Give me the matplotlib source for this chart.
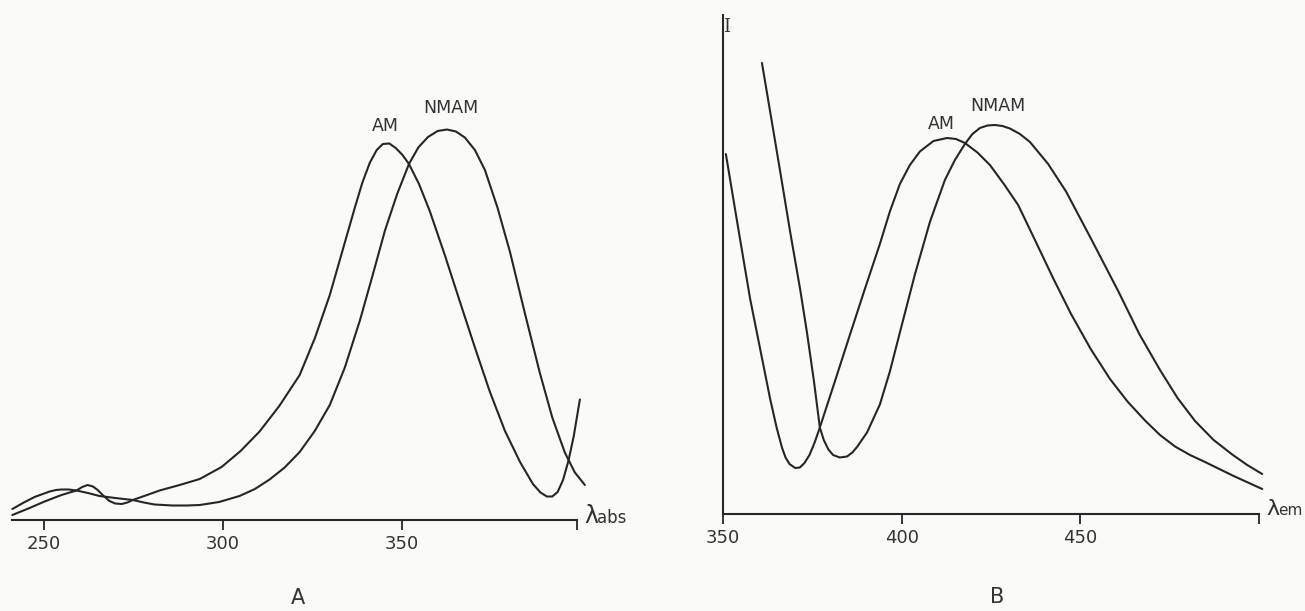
import matplotlib
matplotlib.use("Agg")
import matplotlib.pyplot as plt

W, H, DPI = 1305, 611, 100
INK = "#262626"
BG = "#fafaf8"

# ---- Panel A: absorption (wavelength nm, relative absorbance) ----
a_am_nm = [241.3, 246.1, 250.3, 255.0, 259.2, 260.8, 262.3, 263.8, 265.1, 266.8,
           268.4, 270.0, 271.8, 273.4, 274.9, 278.5, 282.4, 288.0, 293.6, 299.7,
           305.0, 310.3, 315.8, 321.5, 325.8, 329.9, 333.5, 336.9, 339.0, 341.1,
           343.0, 344.7, 346.5, 348.3, 350.2, 352.0, 354.8, 357.8, 362.0, 366.2,
           370.4, 374.6, 378.8, 383.0, 386.6, 388.7, 390.5, 392.0, 393.5, 395.0,
           396.5, 398.0, 399.7]
a_am_val = [1.0, 2.4, 3.7, 5.0, 5.9, 6.6, 7.0, 6.7, 6.0, 4.8,
            3.8, 3.3, 3.2, 3.5, 4.0, 4.9, 5.9, 7.0, 8.2, 10.6,
            13.8, 17.7, 22.8, 29.0, 36.5, 45.0, 54.0, 62.5, 67.5, 71.5,
            74.0, 75.2, 75.3, 74.4, 73.0, 71.2, 67.2, 61.8, 53.0, 43.7,
            34.5, 25.6, 17.8, 11.6, 7.2, 5.5, 4.7, 4.7, 5.6, 8.0,
            11.8, 16.8, 24.1]
a_nmam_nm = [241.3, 244.5, 247.5, 251.7, 253.5, 255.0, 257.0, 259.2, 262.4, 265.6,
             270.0, 274.9, 278.0, 281.0, 286.0, 290.0, 293.6, 299.0, 304.7, 309.0,
             313.1, 317.3, 321.5, 325.7, 329.9, 334.1, 338.3, 341.8, 345.3, 348.7,
             352.0, 354.6, 357.3, 360.0, 362.6, 365.1, 367.6, 370.4, 373.2, 376.7,
             380.2, 384.3, 388.5, 392.0, 395.5, 398.3, 401.1]
a_nmam_val = [2.2, 3.5, 4.6, 5.7, 6.0, 6.1, 6.1, 5.9, 5.4, 4.8,
              4.4, 4.0, 3.5, 3.1, 2.9, 2.9, 3.0, 3.6, 4.8, 6.2,
              8.1, 10.5, 13.6, 17.8, 23.0, 30.5, 39.9, 48.8, 57.9, 65.2,
              71.2, 74.5, 76.6, 77.8, 78.1, 77.7, 76.5, 74.0, 70.0, 62.5,
              53.6, 41.5, 29.5, 20.5, 13.5, 9.5, 7.0]
a_ticks = [250, 300, 350]
a_tick_labels = ["250", "300", "350"]

# ---- Panel B: emission (wavelength nm, relative intensity) ----
b_am_nm = [350.8, 354.2, 357.6, 360.4, 363.2, 365.0, 366.5, 367.5, 368.6, 370.2,
           371.5, 372.8, 374.2, 375.7, 377.1, 381.3, 385.5, 389.7, 393.9, 396.7,
           399.5, 402.3, 405.1, 408.9, 412.7, 415.2, 417.7, 421.2, 424.7, 428.6,
           432.6, 437.5, 442.5, 447.4, 452.9, 458.3, 463.2, 468.1, 472.3, 476.5,
           480.7, 484.9, 492.9, 500.9]
b_am_val = [72.0, 57.4, 43.0, 33.0, 23.0, 17.3, 13.3, 11.3, 10.0, 9.2,
            9.3, 10.2, 11.8, 14.4, 17.3, 26.5, 35.8, 45.0, 54.0, 60.5,
            66.0, 69.8, 72.5, 74.6, 75.2, 75.0, 74.2, 72.3, 69.8, 66.0,
            61.8, 54.5, 47.0, 40.0, 33.0, 27.0, 22.5, 18.7, 15.8, 13.5,
            11.8, 10.4, 7.6, 5.0]
b_nmam_nm = [360.9, 362.6, 365.7, 368.8, 371.6, 373.5, 375.5, 377.1, 378.2, 379.5,
             380.8, 382.7, 384.7, 386.2, 387.5, 390.3, 393.9, 396.7, 399.5, 403.7,
             407.9, 412.1, 414.9, 417.7, 419.8, 421.9, 424.0, 426.1, 428.2, 430.3,
             433.1, 435.9, 441.0, 446.0, 453.4, 460.8, 466.5, 472.3, 477.2, 482.1,
             487.3, 492.5, 496.7, 500.9]
b_nmam_val = [90.2, 83.0, 69.8, 56.4, 44.9, 36.3, 26.3, 17.3, 14.8, 12.9,
              11.8, 11.3, 11.5, 12.3, 13.4, 16.3, 21.9, 28.5, 36.3, 47.9,
              58.4, 66.8, 70.8, 74.0, 76.0, 77.2, 77.7, 77.8, 77.6, 77.1,
              76.0, 74.4, 70.0, 64.5, 54.5, 44.3, 36.0, 28.8, 23.2, 18.6,
              14.8, 11.9, 9.8, 8.0]
b_ticks = [350, 400, 450]
b_tick_labels = ["350", "400", "450"]

fig = plt.figure(figsize=(W / DPI, H / DPI), dpi=DPI, facecolor=BG)


def fx(px):
    return px / W


def fy(py):
    return 1 - py / H


def style_axis(ax, ticks, labels, end_tick):
    ax.set_facecolor("none")
    for s in ["top", "right"]:
        ax.spines[s].set_visible(False)
    ax.spines["bottom"].set_color(INK)
    ax.spines["bottom"].set_linewidth(1.5)
    ax.set_xticks(ticks + [end_tick])
    ax.set_xticklabels(labels + [""])
    ax.tick_params(axis="x", direction="out", length=7, width=1.3, color=INK,
                   labelsize=13, labelcolor="#333333", pad=4)
    ax.set_yticks([])


line_kw = dict(color=INK, lw=1.5, clip_on=False, solid_capstyle="round",
               solid_joinstyle="round")

# Panel A axes
axA = fig.add_axes([fx(12), fy(520), fx(577) - fx(12), fy(0) - fy(520)])
axA.set_xlim(241.2, 398.9)
axA.set_ylim(0, 104)
style_axis(axA, a_ticks, a_tick_labels, 398.9)
axA.spines["left"].set_visible(False)
axA.spines["bottom"].set_bounds(241.2, 398.9)
axA.plot(a_am_nm, a_am_val, **line_kw)
axA.plot(a_nmam_nm, a_nmam_val, **line_kw)

# Panel B axes
axB = fig.add_axes([fx(723), fy(514), fx(1259) - fx(723), fy(15) - fy(514)])
axB.set_xlim(350, 500)
axB.set_ylim(0, 99.8)
style_axis(axB, b_ticks, b_tick_labels, 500)
axB.spines["left"].set_color(INK)
axB.spines["left"].set_linewidth(1.5)
axB.plot(b_am_nm, b_am_val, **line_kw)
axB.plot(b_nmam_nm, b_nmam_val, **line_kw)

# Curve labels
tk = dict(color="#333333", ha="center", va="center")
fig.text(fx(385), fy(126), "AM", fontsize=12.5, **tk)
fig.text(fx(451), fy(108), "NMAM", fontsize=12.5, **tk)
fig.text(fx(941), fy(124), "AM", fontsize=12.5, **tk)
fig.text(fx(998), fy(106), "NMAM", fontsize=12.5, **tk)

# Axis titles
fig.text(fx(584), fy(523), "λ", fontsize=17, color="#333333", ha="left", va="baseline")
fig.text(fx(597), fy(523), "abs", fontsize=12, color="#333333", ha="left", va="baseline")
fig.text(fx(1266), fy(515), "λ", fontsize=16, color="#333333", ha="left", va="baseline")
fig.text(fx(1278), fy(515), "em", fontsize=11, color="#333333", ha="left", va="baseline")
fig.text(fx(727), fy(27), "I", fontsize=13, color="#333333", ha="center", va="center",
         family="DejaVu Serif")

# Panel letters
fig.text(fx(298), fy(598), "A", fontsize=15, **tk)
fig.text(fx(997), fy(597), "B", fontsize=15, **tk)

fig.savefig("out.png", dpi=DPI, facecolor=BG)
